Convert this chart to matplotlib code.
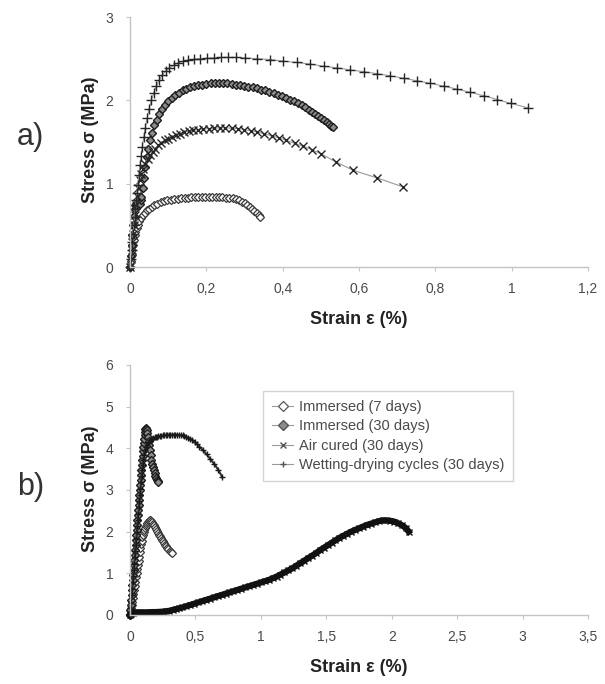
import matplotlib
matplotlib.use('Agg')
import matplotlib.pyplot as plt
from matplotlib.ticker import FuncFormatter

plt.rcParams['font.family'] = ['Liberation Sans', 'DejaVu Sans']

# ---------------- data: panel a ----------------
A_IMM7_STRAIN = [0.000, 0.002, 0.004, 0.006, 0.008, 0.010, 0.012, 0.014, 0.017, 0.020,
                 0.024, 0.028, 0.033, 0.038, 0.044, 0.050, 0.057, 0.064, 0.072, 0.080,
                 0.089, 0.098, 0.107, 0.116, 0.125, 0.134, 0.143, 0.152, 0.161, 0.170,
                 0.179, 0.188, 0.197, 0.206, 0.215, 0.224, 0.233, 0.242, 0.251, 0.260,
                 0.269, 0.278, 0.286, 0.293, 0.300, 0.307, 0.314, 0.320, 0.326, 0.332,
                 0.337, 0.341]
A_IMM7_STRESS = [0.00, 0.07, 0.14, 0.21, 0.27, 0.33, 0.38, 0.42, 0.47, 0.51,
                 0.55, 0.59, 0.62, 0.65, 0.68, 0.70, 0.72, 0.74, 0.76, 0.775,
                 0.79, 0.80, 0.81, 0.815, 0.82, 0.825, 0.83, 0.833, 0.835, 0.837,
                 0.838, 0.839, 0.84, 0.84, 0.84, 0.839, 0.838, 0.836, 0.834, 0.83,
                 0.825, 0.815, 0.80, 0.785, 0.765, 0.745, 0.72, 0.695, 0.67, 0.645,
                 0.62, 0.60]

A_IMM30_STRAIN = [0.000, 0.002, 0.004, 0.006, 0.008, 0.010, 0.012, 0.014, 0.016, 0.018,
                  0.020, 0.022, 0.024, 0.026, 0.028, 0.030, 0.033, 0.036, 0.040, 0.044,
                  0.048, 0.053, 0.058, 0.064, 0.070, 0.077, 0.084, 0.092, 0.100, 0.109,
                  0.118, 0.128, 0.138, 0.148, 0.158, 0.168, 0.178, 0.189, 0.200, 0.211,
                  0.222, 0.233, 0.244, 0.255, 0.266, 0.277, 0.288, 0.299, 0.310, 0.321,
                  0.332, 0.343, 0.354, 0.365, 0.376, 0.387, 0.398, 0.409, 0.420, 0.430,
                  0.440, 0.450, 0.459, 0.468, 0.477, 0.485, 0.493, 0.501, 0.508, 0.515,
                  0.521, 0.527, 0.532]
A_IMM30_STRESS = [0.00, 0.13, 0.26, 0.38, 0.50, 0.61, 0.70, 0.74, 0.76, 0.74,
                  0.77, 0.75, 0.78, 0.76, 0.80, 0.84, 0.95, 1.07, 1.20, 1.32,
                  1.42, 1.52, 1.61, 1.70, 1.77, 1.84, 1.90, 1.95, 1.99, 2.03,
                  2.06, 2.09, 2.12, 2.14, 2.16, 2.17, 2.18, 2.19, 2.20, 2.205,
                  2.21, 2.21, 2.21, 2.205, 2.20, 2.19, 2.18, 2.175, 2.165, 2.155,
                  2.145, 2.13, 2.12, 2.105, 2.09, 2.07, 2.05, 2.03, 2.01, 1.99,
                  1.965, 1.94, 1.915, 1.89, 1.86, 1.835, 1.81, 1.785, 1.76, 1.735,
                  1.715, 1.695, 1.675]

A_AIR_STRAIN = [0.000, 0.002, 0.004, 0.006, 0.008, 0.010, 0.013, 0.016, 0.019, 0.022,
                0.026, 0.030, 0.035, 0.040, 0.046, 0.052, 0.059, 0.066, 0.074, 0.082,
                0.091, 0.100, 0.110, 0.120, 0.131, 0.142, 0.154, 0.166, 0.179, 0.192,
                0.206, 0.220, 0.235, 0.250, 0.266, 0.282, 0.299, 0.316, 0.334, 0.352,
                0.371, 0.390, 0.410, 0.431, 0.453, 0.476, 0.500, 0.540, 0.585, 0.647,
                0.716]
A_AIR_STRESS = [0.00, 0.10, 0.20, 0.30, 0.40, 0.50, 0.62, 0.74, 0.85, 0.95,
                1.05, 1.12, 1.18, 1.24, 1.30, 1.34, 1.38, 1.42, 1.46, 1.49,
                1.52, 1.54, 1.56, 1.58, 1.60, 1.615, 1.63, 1.64, 1.65, 1.655,
                1.66, 1.665, 1.67, 1.67, 1.665, 1.66, 1.65, 1.635, 1.62, 1.60,
                1.575, 1.55, 1.52, 1.485, 1.45, 1.41, 1.36, 1.26, 1.16, 1.07,
                0.96]

A_WET_STRAIN = [0.000, 0.002, 0.004, 0.006, 0.008, 0.010, 0.012, 0.014, 0.016, 0.018,
                0.020, 0.023, 0.026, 0.029, 0.032, 0.036, 0.040, 0.045, 0.050, 0.056,
                0.062, 0.069, 0.076, 0.084, 0.093, 0.103, 0.114, 0.126, 0.139, 0.153,
                0.168, 0.184, 0.201, 0.219, 0.238, 0.258, 0.279, 0.301, 0.332, 0.367,
                0.402, 0.437, 0.472, 0.507, 0.542, 0.577, 0.612, 0.647, 0.682, 0.717,
                0.752, 0.787, 0.822, 0.857, 0.892, 0.927, 0.962, 0.997, 1.043]
A_WET_STRESS = [0.00, 0.10, 0.20, 0.30, 0.40, 0.50, 0.60, 0.70, 0.80, 0.89,
                0.98, 1.10, 1.22, 1.33, 1.44, 1.56, 1.67, 1.79, 1.90, 2.00,
                2.09, 2.17, 2.24, 2.30, 2.35, 2.39, 2.42, 2.45, 2.47, 2.485,
                2.495, 2.50, 2.505, 2.51, 2.515, 2.515, 2.515, 2.51, 2.50, 2.49,
                2.47, 2.455, 2.435, 2.41, 2.39, 2.365, 2.345, 2.32, 2.295, 2.265,
                2.235, 2.205, 2.17, 2.135, 2.095, 2.055, 2.01, 1.965, 1.91]

# ---------------- data: panel b ----------------
B_IMM7_STRAIN = [0.000, 0.004, 0.008, 0.012, 0.016, 0.020, 0.025, 0.030, 0.035, 0.040,
                 0.045, 0.050, 0.055, 0.060, 0.065, 0.070, 0.075, 0.080, 0.085, 0.090,
                 0.095, 0.100, 0.105, 0.110, 0.115, 0.120, 0.126, 0.132, 0.138, 0.144,
                 0.150, 0.156, 0.162, 0.168, 0.175, 0.182, 0.190, 0.198, 0.206, 0.214,
                 0.222, 0.230, 0.238, 0.246, 0.254, 0.262, 0.270, 0.278, 0.286, 0.294,
                 0.302, 0.310, 0.318]
B_IMM7_STRESS = [0.00, 0.08, 0.16, 0.24, 0.32, 0.40, 0.50, 0.60, 0.70, 0.80,
                 0.90, 1.00, 1.10, 1.20, 1.30, 1.40, 1.50, 1.60, 1.70, 1.78,
                 1.86, 1.93, 1.99, 2.04, 2.09, 2.13, 2.17, 2.21, 2.24, 2.26,
                 2.27, 2.27, 2.25, 2.22, 2.19, 2.15, 2.10, 2.06, 2.01, 1.97,
                 1.93, 1.89, 1.85, 1.81, 1.77, 1.73, 1.69, 1.65, 1.61, 1.58,
                 1.54, 1.51, 1.48]

B_IMM30_STRAIN = [0.000, 0.003, 0.006, 0.009, 0.012, 0.015, 0.018, 0.021, 0.024, 0.027,
                  0.030, 0.033, 0.036, 0.039, 0.042, 0.045, 0.048, 0.051, 0.054, 0.057,
                  0.060, 0.063, 0.066, 0.069, 0.072, 0.075, 0.078, 0.081, 0.084, 0.087,
                  0.090, 0.093, 0.096, 0.099, 0.102, 0.105, 0.108, 0.111, 0.114, 0.117,
                  0.120, 0.124, 0.128, 0.132, 0.137, 0.142, 0.147, 0.152, 0.158, 0.164,
                  0.170, 0.176, 0.182, 0.188, 0.194, 0.200, 0.206, 0.212, 0.217]
B_IMM30_STRESS = [0.00, 0.12, 0.24, 0.36, 0.48, 0.60, 0.72, 0.84, 0.96, 1.08,
                  1.20, 1.32, 1.44, 1.56, 1.68, 1.80, 1.92, 2.04, 2.16, 2.28,
                  2.40, 2.52, 2.64, 2.76, 2.88, 3.00, 3.12, 3.24, 3.36, 3.48,
                  3.60, 3.71, 3.82, 3.93, 4.03, 4.13, 4.23, 4.32, 4.40, 4.46,
                  4.48, 4.47, 4.43, 4.37, 4.28, 4.18, 4.07, 3.96, 3.84, 3.73,
                  3.63, 3.55, 3.47, 3.40, 3.34, 3.29, 3.25, 3.22, 3.20]

B_AIR_STRAIN = [0.00, 0.01, 0.02, 0.03, 0.05, 0.075, 0.10, 0.125, 0.15, 0.175,
                0.20, 0.225, 0.25, 0.275, 0.30, 0.325, 0.35, 0.375, 0.40, 0.43,
                0.46, 0.49, 0.52, 0.55, 0.58, 0.61, 0.64, 0.67, 0.70, 0.73,
                0.76, 0.79, 0.82, 0.85, 0.88, 0.91, 0.94, 0.97, 1.00, 1.03,
                1.06, 1.09, 1.12, 1.15, 1.18, 1.21, 1.24, 1.27, 1.30, 1.33,
                1.36, 1.39, 1.42, 1.45, 1.48, 1.51, 1.54, 1.57, 1.60, 1.63,
                1.66, 1.69, 1.72, 1.75, 1.78, 1.81, 1.84, 1.87, 1.90, 1.93,
                1.96, 1.99, 2.02, 2.05, 2.08, 2.11, 2.13]
B_AIR_STRESS = [0.00, 0.03, 0.05, 0.06, 0.06, 0.06, 0.06, 0.06, 0.065, 0.07,
                0.07, 0.075, 0.08, 0.09, 0.10, 0.12, 0.14, 0.16, 0.18, 0.21,
                0.24, 0.27, 0.30, 0.33, 0.36, 0.39, 0.42, 0.45, 0.48, 0.51,
                0.54, 0.57, 0.60, 0.63, 0.66, 0.69, 0.72, 0.75, 0.78, 0.81,
                0.84, 0.88, 0.92, 0.97, 1.02, 1.07, 1.12, 1.18, 1.24, 1.30,
                1.36, 1.42, 1.48, 1.55, 1.61, 1.67, 1.73, 1.79, 1.85, 1.90,
                1.95, 2.00, 2.04, 2.08, 2.12, 2.16, 2.19, 2.22, 2.25, 2.27,
                2.27, 2.26, 2.24, 2.20, 2.15, 2.08, 2.00]

B_WET_STRAIN = [0.000, 0.004, 0.008, 0.012, 0.016, 0.020, 0.024, 0.028, 0.032, 0.036,
                0.040, 0.044, 0.048, 0.052, 0.056, 0.060, 0.064, 0.068, 0.072, 0.076,
                0.080, 0.084, 0.088, 0.092, 0.096, 0.100, 0.106, 0.113, 0.121,
                0.130, 0.137, 0.145, 0.153, 0.161, 0.170, 0.179, 0.188, 0.197, 0.207,
                0.217, 0.227, 0.238, 0.249, 0.260, 0.272, 0.284, 0.296, 0.308, 0.321,
                0.334, 0.347, 0.360, 0.374, 0.388, 0.402, 0.416, 0.431, 0.446, 0.461,
                0.477, 0.493, 0.510, 0.530, 0.555, 0.585, 0.615, 0.645, 0.675, 0.705]
B_WET_STRESS = [0.00, 0.16, 0.32, 0.48, 0.63, 0.78, 0.93, 1.08, 1.23, 1.38,
                1.53, 1.68, 1.83, 1.98, 2.13, 2.28, 2.43, 2.58, 2.73, 2.88,
                3.03, 3.18, 3.33, 3.47, 3.60, 3.72, 3.85, 3.95, 4.03,
                4.09, 4.13, 4.16, 4.19, 4.21, 4.23, 4.25, 4.26, 4.27, 4.28,
                4.29, 4.30, 4.30, 4.31, 4.31, 4.32, 4.32, 4.33, 4.33, 4.33,
                4.33, 4.33, 4.33, 4.32, 4.32, 4.31, 4.29, 4.27, 4.25, 4.22,
                4.19, 4.15, 4.10, 4.04, 3.96, 3.86, 3.74, 3.62, 3.48, 3.31]

LABELS = ["Immersed (7 days)", "Immersed (30 days)", "Air cured (30 days)",
          "Wetting-drying cycles (30 days)"]
A_XTICKS = [0, 0.2, 0.4, 0.6, 0.8, 1.0, 1.2]
A_YTICKS = [0, 1, 2, 3]
B_XTICKS = [0, 0.5, 1.0, 1.5, 2.0, 2.5, 3.0, 3.5]
B_YTICKS = [0, 1, 2, 3, 4, 5, 6]

# ---------------- styles ----------------
GRAY_LINE = dict(color='#9a9a9a', lw=0.8)
STYLES_A = [
    dict(marker='D', ms=4.5, mfc='white', mec='#3a3a3a', mew=0.9, **GRAY_LINE),
    dict(marker='D', ms=4.5, mfc='#8c8c8c', mec='#1e1e1e', mew=1.0, **GRAY_LINE),
    dict(marker='x', ms=6, mec='#262626', mew=1.0, **GRAY_LINE),
    dict(marker='+', ms=7.5, mec='#262626', mew=1.0, **GRAY_LINE),
]
STYLES_B = [
    dict(marker='D', ms=4.5, mfc='white', mec='#3a3a3a', mew=0.9, **GRAY_LINE),
    dict(marker='D', ms=4.5, mfc='#8c8c8c', mec='#1e1e1e', mew=1.0, **GRAY_LINE),
    dict(marker='x', ms=4.5, mec='#111111', mew=1.0, color='#111111', lw=4.5),
    dict(marker='+', ms=5, mec='#1a1a1a', mew=1.0, color='#333333', lw=1.5),
]

fig = plt.figure(figsize=(6.05, 6.84), dpi=100)
ax_a = fig.add_axes([0.2149, 0.6096, 0.7570, 0.3655])
ax_b = fig.add_axes([0.2149, 0.1009, 0.7570, 0.3655])

comma = FuncFormatter(lambda v, p: ('%g' % v).replace('.', ','))


def style_axes(ax, xticks, yticks):
    ax.set_xlim(xticks[0], xticks[-1])
    ax.set_ylim(yticks[0], yticks[-1])
    ax.set_xticks(xticks)
    ax.set_yticks(yticks)
    ax.xaxis.set_major_formatter(comma)
    ax.yaxis.set_major_formatter(comma)
    for s in ('top', 'right'):
        ax.spines[s].set_visible(False)
    for s in ('left', 'bottom'):
        ax.spines[s].set_color('#c4c4c4')
        ax.spines[s].set_linewidth(1.0)
    ax.tick_params(axis='both', direction='out', length=3, width=0.8,
                   color='#c4c4c4', labelsize=10, labelcolor='#4a4a4a')
    ax.tick_params(axis='x', pad=8)
    ax.tick_params(axis='y', pad=9)


series_a = [(A_IMM7_STRAIN, A_IMM7_STRESS), (A_IMM30_STRAIN, A_IMM30_STRESS),
            (A_AIR_STRAIN, A_AIR_STRESS), (A_WET_STRAIN, A_WET_STRESS)]
series_b = [(B_IMM7_STRAIN, B_IMM7_STRESS), (B_IMM30_STRAIN, B_IMM30_STRESS),
            (B_AIR_STRAIN, B_AIR_STRESS), (B_WET_STRAIN, B_WET_STRESS)]

for ax, series, styles, xt, yt in [(ax_a, series_a, STYLES_A, A_XTICKS, A_YTICKS),
                                   (ax_b, series_b, STYLES_B, B_XTICKS, B_YTICKS)]:
    style_axes(ax, xt, yt)
    for (xs, ys), st, lab in zip(series, styles, LABELS):
        ax.plot(xs, ys, label=lab, clip_on=False, **st)

leg = ax_b.legend(loc='upper left', bbox_to_anchor=(0.29, 0.896), borderaxespad=0,
                  fontsize=10.5, frameon=True, fancybox=False, handlelength=1.5,
                  handletextpad=0.4, labelspacing=0.38, borderpad=0.6,
                  labelcolor='#4a4a4a')
leg.get_frame().set_edgecolor('#c8c8c8')
leg.get_frame().set_linewidth(1.0)
for h in leg.legend_handles:
    h.set_color('#9a9a9a')
    h.set_linewidth(0.8)
    h.set_markersize(5)
    h.set_markeredgecolor('#555555')

# axis labels and panel letters
for yc, lab_y in [(0.5336, 0.795), (0.0234, 0.285)]:
    fig.text(0.593, yc, 'Strain ε (%)', ha='center', va='center',
             fontsize=13, fontweight='bold', color='#222222')
    fig.text(0.149, lab_y, 'Stress σ (MPa)', ha='center', va='center',
             rotation=90, fontsize=13, fontweight='bold', color='#222222')

fig.text(0.050, 0.800, 'a)', ha='center', va='center', fontsize=22, color='#333333')
fig.text(0.050, 0.288, 'b)', ha='center', va='center', fontsize=22, color='#333333')

fig.savefig('out.png', dpi=100)
